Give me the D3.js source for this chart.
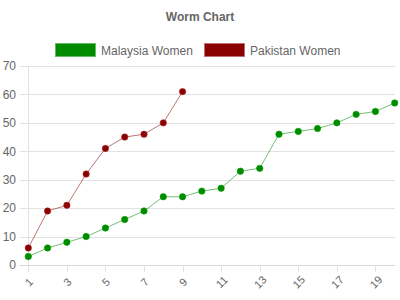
<!DOCTYPE html>
<html><head><meta charset="utf-8">
<script src="https://cdn.jsdelivr.net/npm/d3@7"></script>
<style>body{margin:0;background:#fff}svg{display:block}</style>
</head><body>
<svg id="c" width="400" height="300"></svg>
<script>
const title = "Worm Chart";
const overs = d3.range(1, 21);
const seriesNames = ["Malaysia Women", "Pakistan Women"];
const malaysia = [3, 6, 8, 10, 13, 16, 19, 24, 24, 26, 27, 33, 34, 46, 47, 48, 50, 53, 54, 57];
const pakistan = [6, 19, 21, 32, 41, 45, 46, 50, 61];
const yTicks = [0, 10, 20, 30, 40, 50, 60, 70];
const xTickLabels = [1, 3, 5, 7, 9, 11, 13, 15, 17, 19];
const colors = ["#008a00", "#8b0000"];
const lineColors = ["rgba(0,138,0,0.55)", "rgba(139,0,0,0.55)"];

const svg = d3.select("#c");
const font = "'Liberation Sans', Arial, sans-serif";
const x = d3.scaleLinear().domain([1, 20]).range([28.3, 394.7]);
const y = d3.scaleLinear().domain([0, 70]).range([265, 66]);

svg.append("text").attr("x", 200).attr("y", 21).attr("text-anchor", "middle")
  .attr("font-family", font).attr("font-size", 12).attr("font-weight", "bold")
  .attr("fill", "#666").text(title);

// legend
const legendX = [55, 204];
seriesNames.forEach((n, i) => {
  svg.append("rect").attr("x", legendX[i] + 0.5).attr("y", 43.5).attr("width", 40).attr("height", 13)
    .attr("fill", colors[i]).attr("stroke", i === 0 ? "#66bb66" : "#c07070").attr("stroke-width", 1);
  svg.append("text").attr("x", legendX[i] + 46).attr("y", 54.5).attr("font-family", font)
    .attr("font-size", 12).attr("fill", "#666").text(n);
});

// y grid & labels
const yAxis = d3.axisLeft(y).tickValues(yTicks).tickSize(-(395 - 20)).tickPadding(4);
const gy = svg.append("g").attr("transform", "translate(20,0)").call(yAxis);
gy.select(".domain").remove();
gy.selectAll(".tick line").attr("stroke", "#e2e2e2").attr("stroke-width", 1).attr("shape-rendering", "crispEdges");
gy.selectAll(".tick text").attr("font-family", font).attr("font-size", 12).attr("fill", "#666");

// y axis line
svg.append("line").attr("x1", 28.5).attr("x2", 28.5).attr("y1", 66).attr("y2", 265)
  .attr("stroke", "#e2e2e2").attr("shape-rendering", "crispEdges");
// x axis line
svg.append("line").attr("x1", 20).attr("x2", 395).attr("y1", 265.5).attr("y2", 265.5)
  .attr("stroke", "#d8d8d8").attr("shape-rendering", "crispEdges");

// x ticks
const xAxis = d3.axisBottom(x).tickValues(xTickLabels).tickSize(7).tickFormat(d3.format("d"));
const gx = svg.append("g").attr("transform", "translate(0,265)").call(xAxis);
gx.select(".domain").remove();
gx.selectAll(".tick line").attr("stroke", "#e2e2e2").attr("shape-rendering", "crispEdges");
gx.selectAll(".tick text").attr("font-family", font).attr("font-size", 11).attr("fill", "#666")
  .attr("text-anchor", "middle").attr("dy", null).attr("y", null)
  .attr("dominant-baseline", "central")
  .attr("transform", "translate(0,17) rotate(-45)");

const data = [malaysia, pakistan];
const line = d3.line().x((d, i) => x(overs[i])).y(d => y(d));
data.forEach((vals, s) => {
  svg.append("path").datum(vals).attr("d", line).attr("fill", "none")
    .attr("stroke", lineColors[s]).attr("stroke-width", 1);
  svg.append("g").selectAll("circle").data(vals).join("circle")
    .attr("cx", (d, i) => x(overs[i])).attr("cy", d => y(d)).attr("r", 3.2)
    .attr("fill", colors[s]).attr("stroke", s === 0 ? "rgba(0,160,0,0.6)" : "rgba(170,40,40,0.6)").attr("stroke-width", 1);
});
</script>
</body></html>
